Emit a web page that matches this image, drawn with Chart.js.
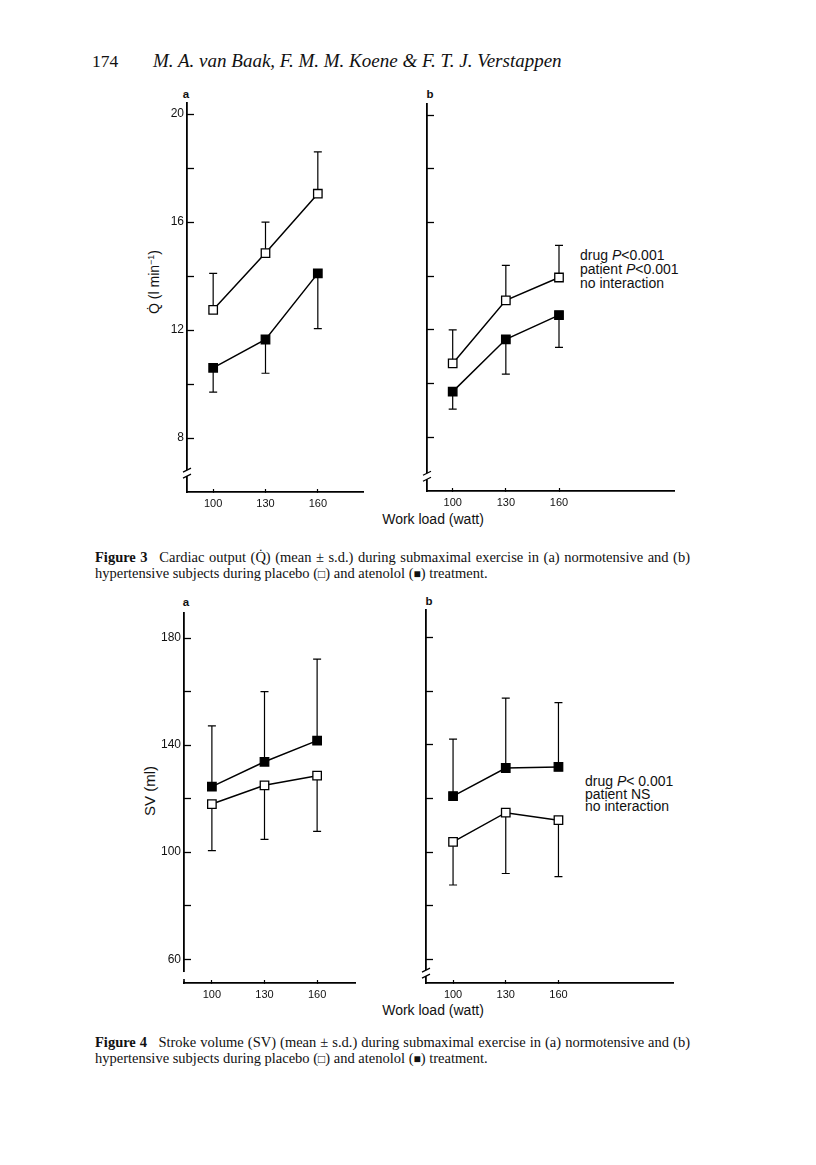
<!DOCTYPE html>
<html>
<head>
<meta charset="utf-8">
<script src="https://cdn.jsdelivr.net/npm/chart.js@4.4.1/dist/chart.umd.min.js"></script>
<style>
  body { margin: 0; background: #fff; }
  #page { position: relative; width: 816px; height: 1165px; overflow: hidden;
          font-family: 'Liberation Sans', Arial, sans-serif; color: #111; }
  canvas { position: absolute; }
  .t { position: absolute; white-space: nowrap; transform: translateY(-50%); }
  .c { transform: translate(-50%, -50%); }
  .rot { transform: translate(-50%, -50%) rotate(-90deg); }
  .serif { font-family: 'Liberation Serif', 'Times New Roman', serif; }
  .lbl { font-weight: bold; font-size: 11.5px; }
  .note { font-size: 14px; line-height: 14px; transform: none; }
  .cap { font-family: 'Liberation Serif', 'Times New Roman', serif; font-size: 14.5px; }
  .just { width: 595px; text-align: justify; text-align-last: justify; }
  .sq { font-size: 12px; vertical-align: 0px; }
</style>
</head>
<body>
<div id="page">
  <div class="t serif" style="left:92px; top:61px; font-size:17.5px;">174</div>
  <div class="t serif" style="left:153px; top:61px; font-size:19px; font-style:italic;">M. A. van Baak, F. M. M. Koene &amp; F. T. J. Verstappen</div>

  <!-- Figure 3 -->
  <div class="t c lbl" style="left:186px; top:94px;">a</div>
  <div class="t c lbl" style="left:430px; top:94px;">b</div>
  <div class="t rot" style="left:154px; top:282px; font-size:14px;">Q&#775; (l min<sup style="font-size:9px">−1</sup>)</div>
  <div class="t note" style="left:580px; top:248px;">drug <i>P</i>&lt;0.001<br>patient <i>P</i>&lt;0.001<br>no interaction</div>
  <div class="t c" style="left:433px; top:519px; font-size:14px;">Work load (watt)</div>
  <div class="t cap just" style="left:95px; top:557px;"><b>Figure 3</b>&ensp; Cardiac output (Q&#775;) (mean ± s.d.) during submaximal exercise in (a) normotensive and (b)</div>
  <div class="t cap" style="left:95px; top:573px;">hypertensive subjects during placebo (<span class="sq">□</span>) and atenolol (<span class="sq">■</span>) treatment.</div>

  <!-- Figure 4 -->
  <div class="t c lbl" style="left:186px; top:602px;">a</div>
  <div class="t c lbl" style="left:429px; top:601px;">b</div>
  <div class="t rot" style="left:149px; top:791px; font-size:15px;">SV (ml)</div>
  <div class="t note" style="left:585px; top:775px; line-height:12.6px;">drug <i>P</i>&lt; 0.001<br>patient NS<br>no interaction</div>
  <div class="t c" style="left:433px; top:1010px; font-size:14px;">Work load (watt)</div>
  <div class="t cap just" style="left:95px; top:1042px;"><b>Figure 4</b>&ensp; Stroke volume (SV) (mean ± s.d.) during submaximal exercise in (a) normotensive and (b)</div>
  <div class="t cap" style="left:95px; top:1058px;">hypertensive subjects during placebo (<span class="sq">□</span>) and atenolol (<span class="sq">■</span>) treatment.</div>
</div>

<script>
// work loads (watt)
const workloads = [100, 130, 160];

// y axis ticks
const qTicks = [8, 10, 12, 14, 16, 18, 20];
const qLabels = [8, 12, 16, 20];
const svTicks = [60, 80, 100, 120, 140, 160, 180];
const svLabels = [60, 100, 140, 180];

// Figure 3 - cardiac output (l/min), mean and s.d.
const qNormPlacebo = [12.75, 14.85, 17.05];
const qNormPlaceboSD = [1.35, 1.15, 1.55];
const qNormAtenolol = [10.6, 11.65, 14.1];
const qNormAtenololSD = [0.9, 1.25, 2.05];
const qHypPlacebo = [10.75, 13.1, 13.95];
const qHypPlaceboSD = [1.25, 1.3, 1.2];
const qHypAtenolol = [9.7, 11.65, 12.55];
const qHypAtenololSD = [0.65, 1.3, 1.2];

// Figure 4 - stroke volume (ml), mean and s.d.
const svNormPlacebo = [118, 125, 128.6];
const svNormPlaceboSD = [17.4, 20.2, 20.8];
const svNormAtenolol = [124.5, 133.8, 141.7];
const svNormAtenololSD = [22.7, 26.2, 30.5];
const svHypPlacebo = [103.8, 114.7, 111.9];
const svHypPlaceboSD = [16.1, 22.7, 21.1];
const svHypAtenolol = [120.9, 131.4, 131.8];
const svHypAtenololSD = [21.3, 26.1, 24.0];

const AXIS_W = 40, AXIS_H = 30, PAD_TOP = 6, PAD_RIGHT = 4;
const FAMILY = "'Liberation Sans', Arial, sans-serif";
const page = document.getElementById('page');

// vertical s.d. bars, drawn under the markers
const errorBars = {
  id: 'errorBars',
  beforeDatasetsDraw(chart) {
    const { ctx, scales: { x, y } } = chart;
    ctx.save();
    ctx.strokeStyle = '#000';
    ctx.lineWidth = 1.2;
    chart.data.datasets.forEach(ds => {
      ds.data.forEach((p, i) => {
        const px = x.getPixelForValue(p.x);
        const py = y.getPixelForValue(p.y);
        const pe = y.getPixelForValue(p.y + ds.errDir * ds.sd[i]);
        ctx.beginPath();
        ctx.moveTo(px, py);
        ctx.lineTo(px, pe);
        ctx.moveTo(px - 4, pe);
        ctx.lineTo(px + 4, pe);
        ctx.stroke();
      });
    });
    ctx.restore();
  }
};

// broken y axis near the origin
const axisBreak = {
  id: 'axisBreak',
  afterDraw(chart, args, opts) {
    const { ctx, chartArea: a, scales: { y } } = chart;
    const by = y.getPixelForValue(opts.value);
    ctx.save();
    ctx.fillStyle = '#fff';
    ctx.strokeStyle = '#000';
    ctx.lineWidth = 1.2;
    if (opts.mode === 'gap') {
      ctx.fillRect(a.left - 3, by, 6, a.bottom - 1.5 - by);
      ctx.lineWidth = 1.6;
      ctx.beginPath();
      ctx.moveTo(a.left, a.bottom);
      ctx.lineTo(a.left, a.bottom - 4);
      ctx.stroke();
    } else {
      ctx.fillRect(a.left - 3, by - 3, 6, 6);
      ctx.beginPath();
      ctx.moveTo(a.left - 4, by - 1);
      ctx.lineTo(a.left + 4, by - 5);
      ctx.moveTo(a.left - 4, by + 5);
      ctx.lineTo(a.left + 4, by + 1);
      ctx.stroke();
    }
    ctx.restore();
  }
};

function makePanel(area, xRange, yRange, yTicks, yLabels, series, brk) {
  const cv = document.createElement('canvas');
  const left = area.l - AXIS_W, top = area.t - PAD_TOP;
  const w = area.r - left + PAD_RIGHT, h = area.b - top + AXIS_H;
  cv.width = w; cv.height = h;
  cv.style.left = left + 'px'; cv.style.top = top + 'px';
  cv.style.width = w + 'px'; cv.style.height = h + 'px';
  page.appendChild(cv);

  new Chart(cv.getContext('2d'), {
    type: 'line',
    data: {
      datasets: series.map(s => ({
        data: workloads.map((x, i) => ({ x: x, y: s.values[i] })),
        sd: s.sd,
        errDir: s.dir,
        borderColor: '#000',
        borderWidth: 1.5,
        pointStyle: 'rect',
        pointRadius: 6,
        pointBorderWidth: 1.3,
        pointBorderColor: '#000',
        pointBackgroundColor: s.filled ? '#000' : '#fff',
        tension: 0
      }))
    },
    options: {
      responsive: false,
      animation: false,
      events: [],
      layout: { padding: { top: PAD_TOP, right: PAD_RIGHT, left: 0, bottom: 0 } },
      plugins: {
        legend: { display: false },
        tooltip: { enabled: false },
        axisBreak: brk
      },
      scales: {
        x: {
          type: 'linear',
          min: xRange[0], max: xRange[1],
          afterBuildTicks: s => { s.ticks = workloads.map(v => ({ value: v })); },
          afterFit: s => { s.height = AXIS_H; s.paddingLeft = 0; s.paddingRight = 0; },
          grid: { drawOnChartArea: false, drawTicks: true, tickLength: -3,
                  tickColor: '#000', tickWidth: 1.2 },
          border: { color: '#000', width: 1.8 },
          ticks: { color: '#111', font: { family: FAMILY, size: 11 }, padding: 8,
                   maxRotation: 0, autoSkip: false, callback: v => String(v) }
        },
        y: {
          type: 'linear',
          min: yRange[0], max: yRange[1],
          afterBuildTicks: s => { s.ticks = yTicks.map(v => ({ value: v })); },
          afterFit: s => { s.width = AXIS_W; s.paddingTop = 0; s.paddingBottom = 0; },
          grid: { drawOnChartArea: false, drawTicks: true, tickLength: -7,
                  tickColor: '#000', tickWidth: 1.3 },
          border: { color: '#000', width: 1.8 },
          ticks: { color: '#111', font: { family: FAMILY, size: 12 }, padding: 10, autoSkip: false,
                   callback: v => yLabels.includes(v) ? String(v) : '' }
        }
      }
    },
    plugins: [errorBars, axisBreak]
  });
}

// Figure 3a - normotensive
makePanel({ l: 187, r: 367, t: 102, b: 492 }, [85, 186.3], [6, 20.4], qTicks, qLabels, [
  { values: qNormPlacebo, sd: qNormPlaceboSD, dir: 1, filled: false },
  { values: qNormAtenolol, sd: qNormAtenololSD, dir: -1, filled: true }
], { value: 6.7, mode: 'slash' });

// Figure 3b - hypertensive
makePanel({ l: 427, r: 678, t: 103, b: 491 }, [85.5, 225.3], [6, 20.4], qTicks, [], [
  { values: qHypPlacebo, sd: qHypPlaceboSD, dir: 1, filled: false },
  { values: qHypAtenolol, sd: qHypAtenololSD, dir: -1, filled: true }
], { value: 6.55, mode: 'slash' });

// Figure 4a - normotensive
makePanel({ l: 184, r: 359, t: 612, b: 983 }, [84.1, 182], [51.1, 189.3], svTicks, svLabels, [
  { values: svNormPlacebo, sd: svNormPlaceboSD, dir: -1, filled: false },
  { values: svNormAtenolol, sd: svNormAtenololSD, dir: 1, filled: true }
], { value: 55.2, mode: 'gap' });

// Figure 4b - hypertensive
makePanel({ l: 426, r: 677, t: 609, b: 983 }, [84.6, 225.6], [51.1, 190.3], svTicks, [], [
  { values: svHypPlacebo, sd: svHypPlaceboSD, dir: -1, filled: false },
  { values: svHypAtenolol, sd: svHypAtenololSD, dir: 1, filled: true }
], { value: 54.8, mode: 'slash' });
</script>
</body>
</html>
